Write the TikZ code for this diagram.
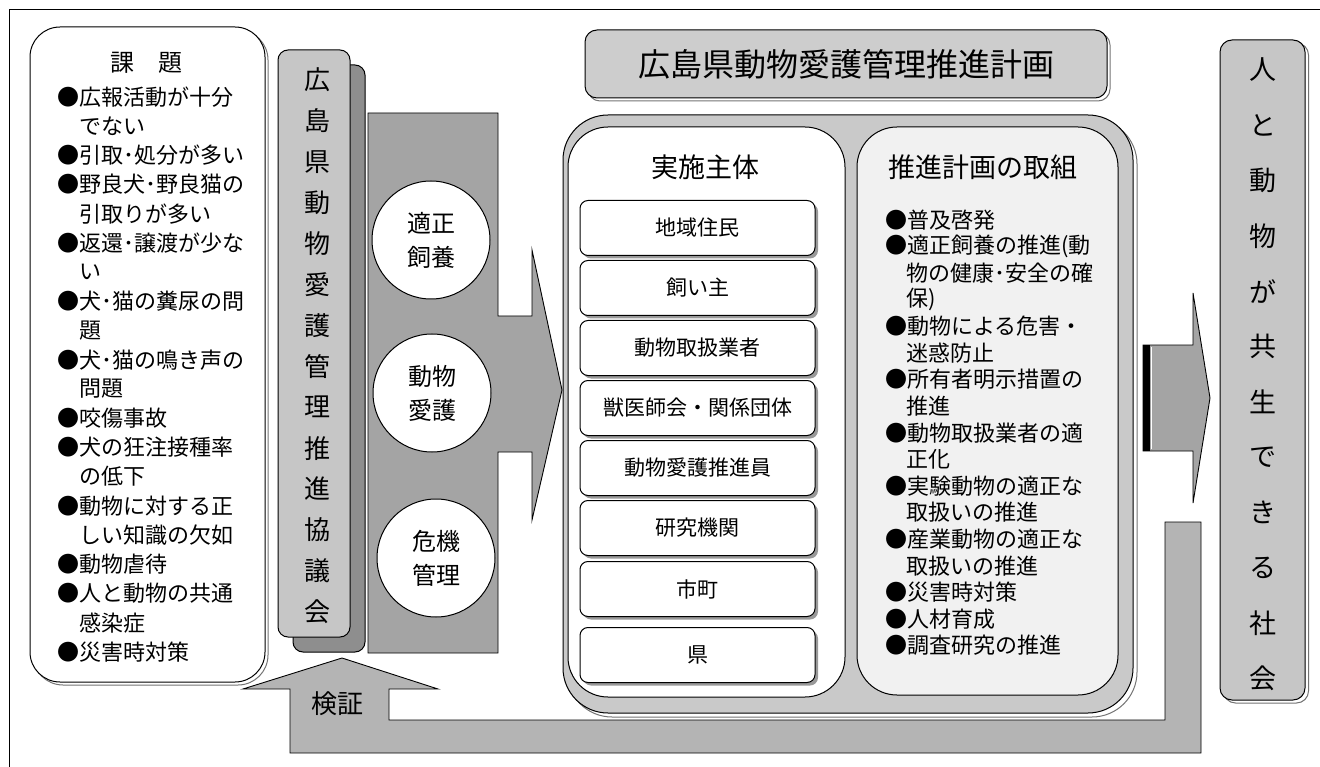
\documentclass[tikz,border=0pt]{standalone}
\usepackage{fontspec}
\setmainfont{Noto Sans CJK JP}
\newcommand\myfs[2]{\fontsize{#1}{#2}\selectfont}
\definecolor{gA}{HTML}{C6C6C6}
\definecolor{gB}{HTML}{A4A4A4}
\definecolor{gC}{HTML}{8E8E8E}
\definecolor{gD}{HTML}{B4B4B4}
\definecolor{gE}{HTML}{CDCDCD}
\definecolor{gF}{HTML}{F1F1F1}
\definecolor{gG}{HTML}{C9C9C9}
\begin{document}
\begin{tikzpicture}[x=1pt,y=-1pt,
  rbox/.style={draw=black, line width=1pt, rounded corners=#1, inner sep=0pt, outer sep=0pt},
  sbox/.style={draw=black!55, line width=1pt, rounded corners=#1, inner sep=0pt, outer sep=0pt, fill=black!35},
  blk/.style={draw=black, line width=0.9pt},
  lst/.style={anchor=west, inner sep=0pt, font=\myfs{22}{22}},
  plst/.style={anchor=west, inner sep=0pt, font=\myfs{22}{22}},
  itm/.style={rbox=8, fill=white, minimum width=235pt, minimum height=55pt, font=\myfs{21}{21}},
  itms/.style={sbox=8, fill=black!40, draw=none, minimum width=235pt, minimum height=55pt},
  circ/.style={circle, draw=black, line width=1pt, fill=white, minimum size=118pt, inner sep=0pt, align=center, font=\myfs{24}{34}},
  vch/.style={inner sep=0pt, font=\myfs{26}{26}},
  rch/.style={inner sep=0pt, font=\myfs{27}{27}},
  ]
\useasboundingbox (0,0) rectangle (1320,767);
% frame
\draw[line width=1pt] (9,767) -- (9,10) -- (1320,10);

% big gray arrow (left block)
\draw[blk, fill=gB] (368,113) -- (498,113) -- (498,316) -- (532,316) -- (532,250) -- (562,390) -- (532,520) -- (532,452) -- (498,452) -- (498,653) -- (368,653) -- cycle;

% kensho feedback arrow
\draw[blk, fill=gD] (342,658) -- (438,689) -- (389,689) -- (389,720) -- (1165,720) -- (1165,522) -- (1201,522) -- (1201,753) -- (290,753) -- (290,689) -- (243,689) -- cycle;
\node[font=\myfs{26}{26}, inner sep=0pt] (kensho) at (337,704) {検証};

% right arrow
\draw[blk, fill=gB] (1143,345) -- (1193,345) -- (1193,293) -- (1210,398) -- (1193,503) -- (1193,451) -- (1143,451) -- cycle;
\fill[black] (1143,345) rectangle (1150,451);
\draw[white, line width=1pt] (1151.5,347) -- (1151.5,449);

% kadai box
\node[sbox=30, fill=none, minimum width=235pt, minimum height=655pt] (kadaiS) at (150.5,357.5) {};
\node[rbox=30, fill=white, minimum width=235pt, minimum height=655pt] (kadai) at (147.5,354.5) {};
\node[font=\myfs{24}{24}, inner sep=0pt] (kadaiT) at (146,63) {課　題};
\foreach \xx/\t [count=\i from 0] in {57/●広報活動が十分, 79/でない, 57/●引取･処分が多い, 57/●野良犬･野良猫の, 79/引取りが多い, 57/●返還･譲渡が少な, 79/い, 57/●犬･猫の糞尿の問, 79/題, 57/●犬･猫の鳴き声の, 79/問題, 57/●咬傷事故, 57/●犬の狂注接種率, 79/の低下, 57/●動物に対する正, 79/しい知識の欠如, 57/●動物虐待, 57/●人と動物の共通, 79/感染症, 57/●災害時対策}
  \node[lst] (k\i) at (\xx, 97+29.2*\i) {\t};

% council vertical box
\node[rbox=10, fill=gC, minimum width=72pt, minimum height=587pt] (kyogiS) at (329,358.5) {};
\node[rbox=10, fill=gA, minimum width=72pt, minimum height=587pt] (kyogi) at (314,343.5) {};
\foreach \c [count=\i from 0] in {広,島,県,動,物,愛,護,管,理,推,進,協,議,会}
  \node[vch] (v\i) at (317, 80+40.9*\i) {\c};

% circles
\node[circ] (c1) at (431,240) {適正\\飼養};
\node[circ] (c2) at (432,393) {動物\\愛護};
\node[circ] (c3) at (436,558) {危機\\管理};

% title
\node[sbox=12, fill=none, minimum width=522pt, minimum height=68pt] (titleS) at (849,67) {};
\node[rbox=12, fill=gE, minimum width=522pt, minimum height=68pt, font=\myfs{32}{32}] (title) at (846,64) {広島県動物愛護管理推進計画};

% outer plan box
\node[sbox=45, fill=none, minimum width=570pt, minimum height=598pt] (outerS) at (852,418) {};
\node[rbox=45, fill=gG, minimum width=570pt, minimum height=598pt] (outer) at (848,414) {};
\node[rbox=40, fill=white, minimum width=277pt, minimum height=570pt] (jisshi) at (706.5,412) {};
\node[rbox=40, fill=gF, minimum width=261pt, minimum height=568pt] (suishin) at (987.5,411) {};
\node[font=\myfs{27}{27}, inner sep=0pt] (jisshiT) at (705,167) {実施主体};
\node[font=\myfs{27}{27}, inner sep=0pt] (suishinT) at (983,167) {推進計画の取組};

% actor boxes
\foreach \y/\t [count=\i from 1] in {228/地域住民, 288/飼い主, 348/動物取扱業者, 408/獣医師会・関係団体, 468/動物愛護推進員, 528/研究機関, 589/市町, 655/県}{
  \node[itms] (a\i S) at (700.5,\y+3) {};
  \node[itm] (a\i) at (697.5,\y) {\t};
}

% plan list
\foreach \xx/\t [count=\i from 0] in {885/●普及啓発, 885/●適正飼養の推進(動, 906/物の健康･安全の確, 906/保), 885/●動物による危害・, 906/迷惑防止, 885/●所有者明示措置の, 906/推進, 885/●動物取扱業者の適, 906/正化, 885/●実験動物の適正な, 906/取扱いの推進, 885/●産業動物の適正な, 906/取扱いの推進, 885/●災害時対策, 885/●人材育成, 885/●調査研究の推進}
  \node[plst] (p\i) at (\xx, 220+26.6*\i) {\t};

% goal vertical box
\node[sbox=12, fill=none, minimum width=85pt, minimum height=660pt] (goalS) at (1266,373) {};
\node[rbox=12, fill=gA, minimum width=85pt, minimum height=660pt] (goal) at (1262.5,370) {};
\foreach \c [count=\i from 0] in {人,と,動,物,が,共,生,で,き,る,社,会}
  \node[rch] (g\i) at (1263, 70+55.3*\i) {\c};
\end{tikzpicture}
\end{document}
